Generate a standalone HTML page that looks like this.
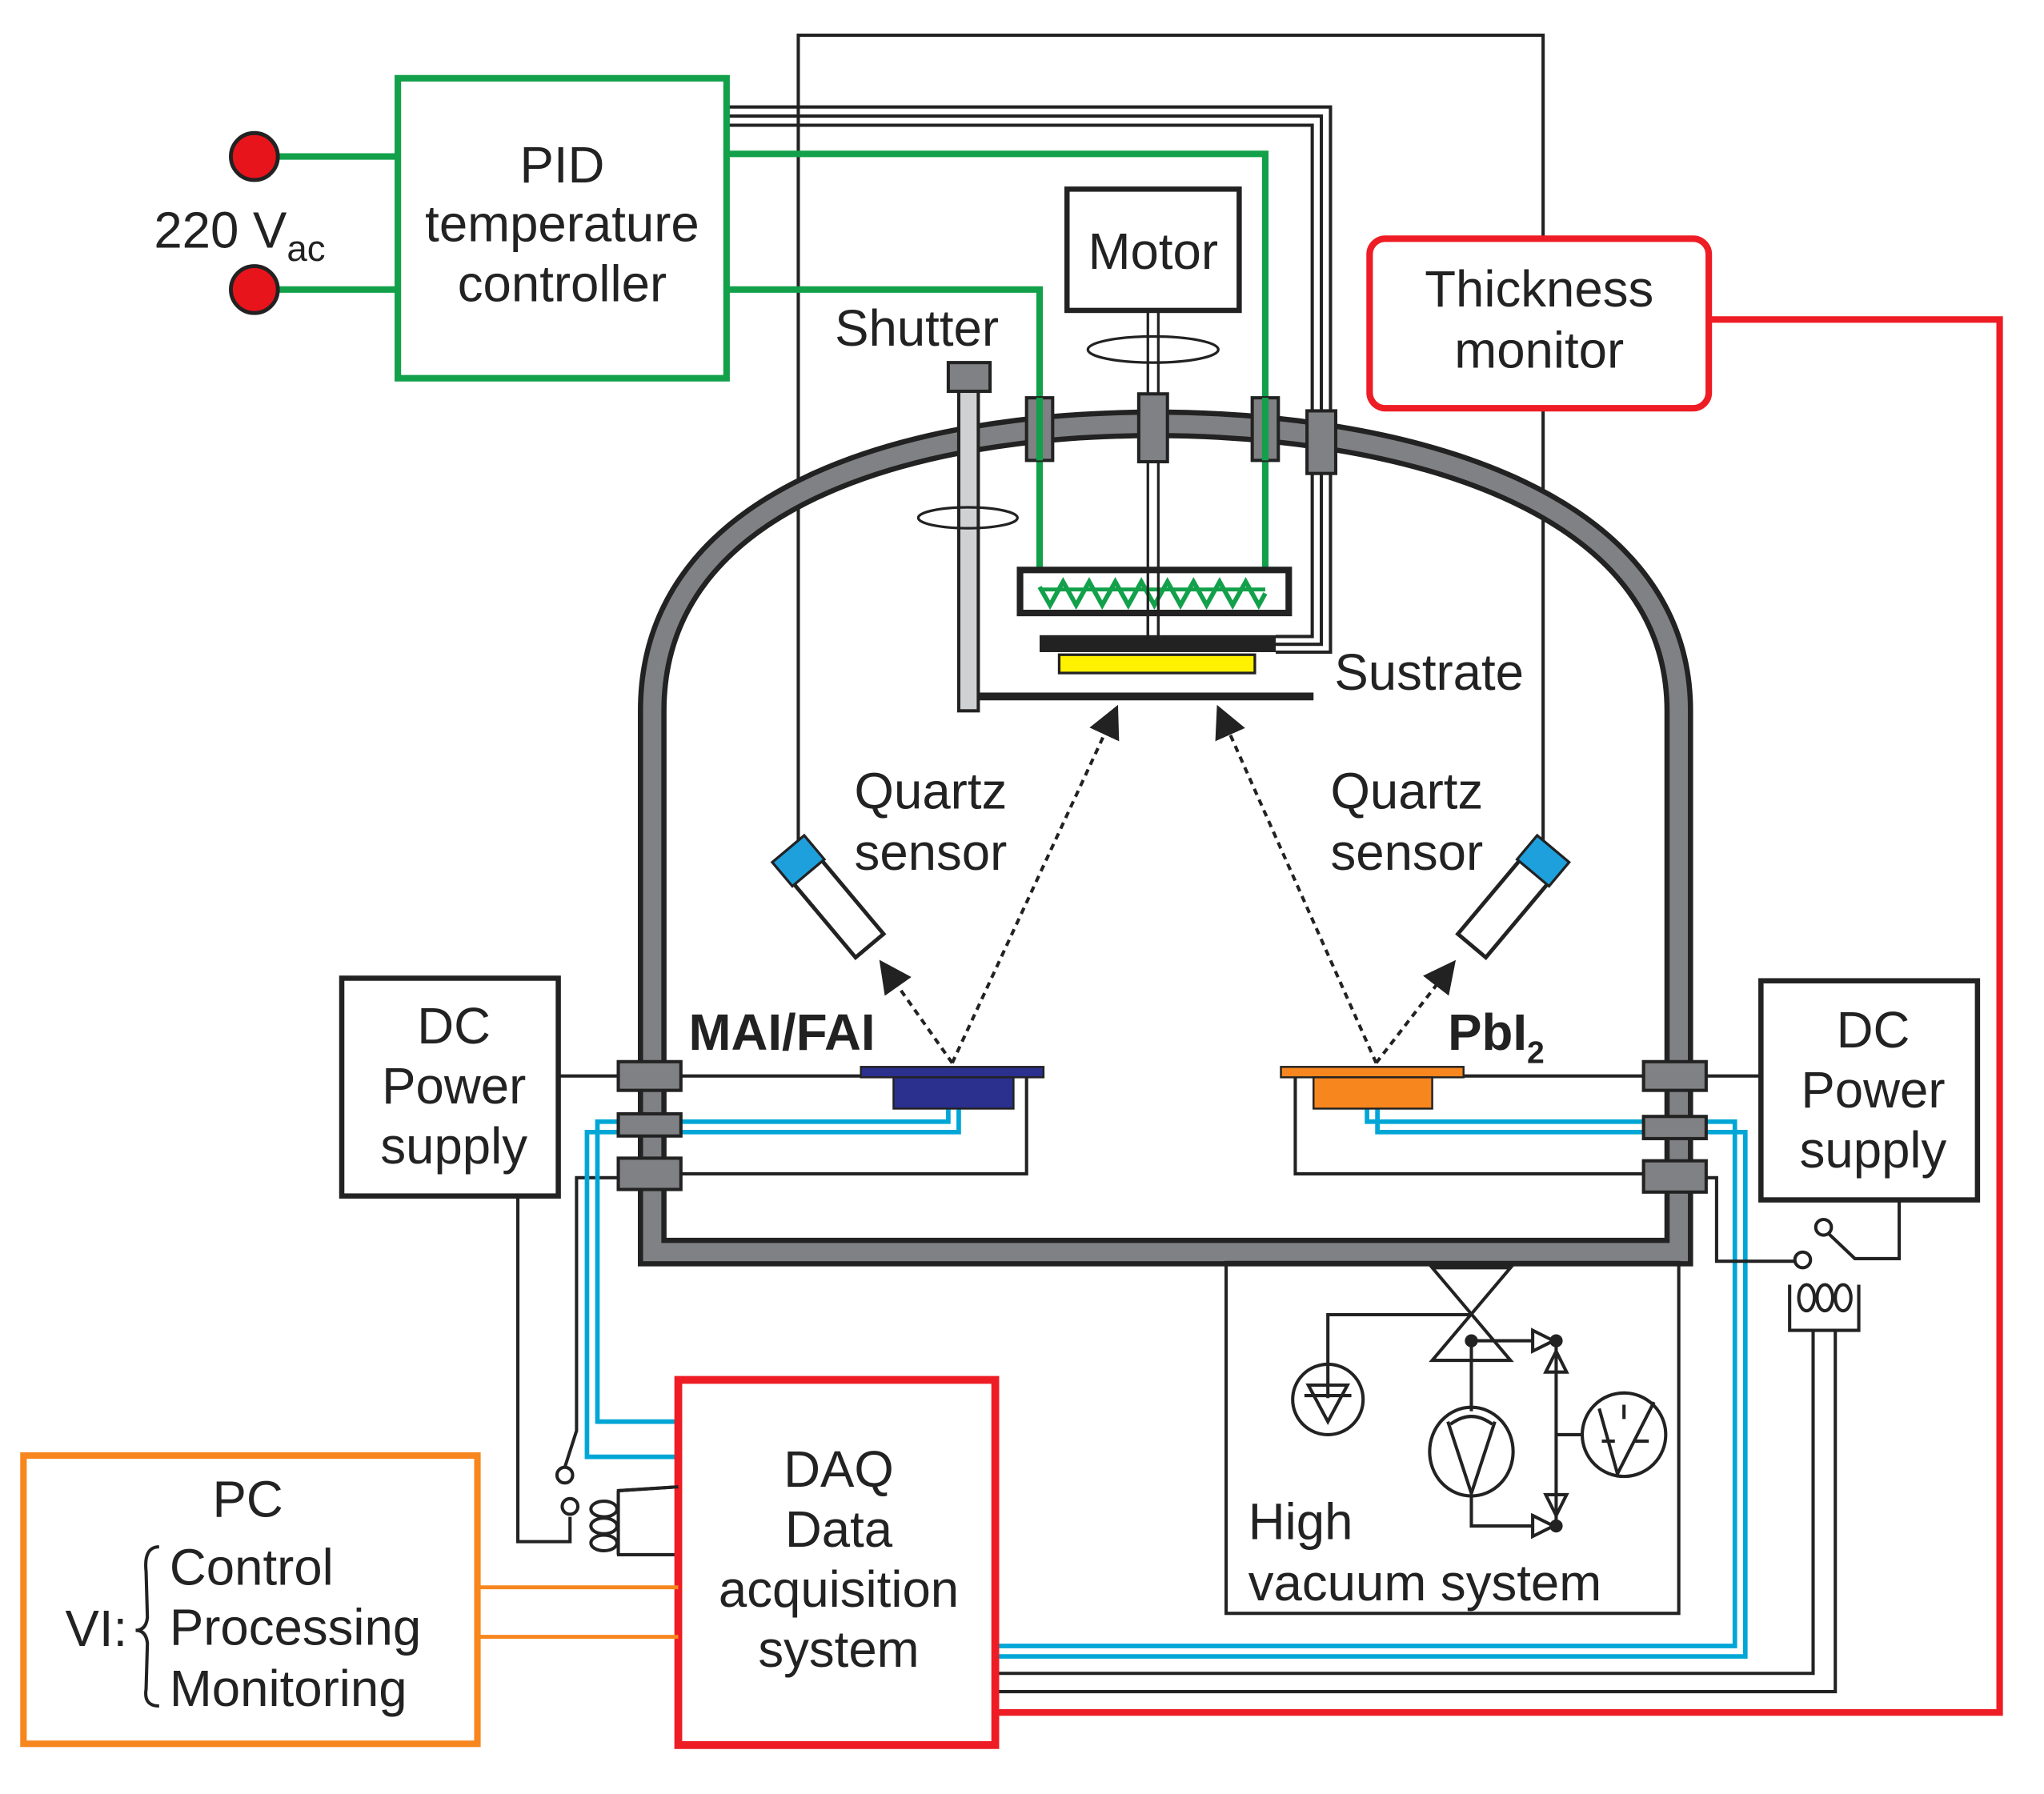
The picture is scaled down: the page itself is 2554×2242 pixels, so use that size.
<!DOCTYPE html>
<html><head><meta charset="utf-8"><style>
html,body{margin:0;padding:0;background:#fff}
svg{display:block}
text{font-family:"Liberation Sans",Arial,sans-serif;fill:#222}
</style></head><body>
<svg width="2554" height="2242" viewBox="0 0 1567 1375.5" preserveAspectRatio="none" xmlns="http://www.w3.org/2000/svg">
<rect width="1567" height="1376" fill="#fff"/>
<polyline points="612,650 612,27 1183,27 1183,650" fill="none" stroke="#222" stroke-width="2.5"/>
<polyline points="557,82 1020,82 1020,500 978,500" fill="none" stroke="#222" stroke-width="2.5"/>
<polyline points="557,89 1013,89 1013,494 978,494" fill="none" stroke="#222" stroke-width="2.5"/>
<polyline points="557,96 1006,96 1006,488 978,488" fill="none" stroke="#222" stroke-width="2.5"/>
<line x1="210" y1="120" x2="305" y2="120" stroke="#12a04a" stroke-width="5"/>
<line x1="210" y1="222" x2="305" y2="222" stroke="#12a04a" stroke-width="5"/>
<polyline points="557,118 970,118 970,455" fill="none" stroke="#12a04a" stroke-width="5"/>
<polyline points="557,222 797,222 797,450" fill="none" stroke="#12a04a" stroke-width="5"/>
<circle cx="195" cy="120" r="18" fill="#e8141c" stroke="#222" stroke-width="3"/>
<circle cx="195" cy="222" r="18" fill="#e8141c" stroke="#222" stroke-width="3"/>
<text x="118" y="190" font-size="39">220 V<tspan font-size="28" dy="10">ac</tspan></text>
<rect x="305" y="60" width="252" height="230" fill="#fff" stroke="#12a04a" stroke-width="5"/>
<text x="431" y="140" font-size="39" text-anchor="middle">PID</text>
<text x="431" y="185" font-size="39" text-anchor="middle">temperature</text>
<text x="431" y="231" font-size="39" text-anchor="middle">controller</text>
<rect x="818" y="145" width="132" height="93" fill="#fff" stroke="#222" stroke-width="4"/>
<text x="884" y="206" font-size="39" text-anchor="middle">Motor</text>
<line x1="880" y1="238" x2="880" y2="490" stroke="#222" stroke-width="2"/>
<line x1="888" y1="238" x2="888" y2="490" stroke="#222" stroke-width="2"/>
<ellipse cx="884" cy="268" rx="50" ry="10" fill="none" stroke="#222" stroke-width="2"/>
<path d="M500,960 L500,545 C500,380 700,325 885,325 C1070,325 1287,380 1287,545 L1287,960 Z" fill="none" stroke="#222" stroke-width="22"/>
<path d="M500,960 L500,545 C500,380 700,325 885,325 C1070,325 1287,380 1287,545 L1287,960 Z" fill="none" stroke="#808184" stroke-width="14"/>
<rect x="787" y="305" width="20" height="48" fill="#808184" stroke="#222" stroke-width="2.5"/>
<rect x="873" y="302" width="22" height="52" fill="#808184" stroke="#222" stroke-width="2.5"/>
<rect x="960" y="305" width="20" height="48" fill="#808184" stroke="#222" stroke-width="2.5"/>
<rect x="1002" y="315" width="22" height="48" fill="#808184" stroke="#222" stroke-width="2.5"/>
<line x1="797" y1="305" x2="797" y2="353" stroke="#12a04a" stroke-width="5"/>
<line x1="970" y1="305" x2="970" y2="353" stroke="#12a04a" stroke-width="5"/>
<text x="640" y="265" font-size="39">Shutter</text>
<rect x="735" y="300" width="15" height="245" fill="#d0d1d3" stroke="#222" stroke-width="2.5"/>
<rect x="727" y="278" width="32" height="22" fill="#808184" stroke="#222" stroke-width="2.5"/>
<ellipse cx="742" cy="397" rx="38" ry="8" fill="none" stroke="#222" stroke-width="2"/>
<line x1="750" y1="534" x2="1007" y2="534" stroke="#222" stroke-width="6"/>
<rect x="782" y="437" width="206" height="33" fill="#fff" stroke="#222" stroke-width="5"/>
<polyline points="797,450 805,464 815,446 825,464 835,446 845,464 855,446 865,464 875,446 885,464 895,446 905,464 915,446 925,464 935,446 945,464 955,446 965,464 970,455" fill="none" stroke="#12a04a" stroke-width="3.5"/>
<line x1="797" y1="452" x2="970" y2="452" stroke="#12a04a" stroke-width="3"/>
<line x1="880" y1="437" x2="880" y2="490" stroke="#222" stroke-width="2"/>
<line x1="888" y1="437" x2="888" y2="490" stroke="#222" stroke-width="2"/>
<rect x="797" y="487" width="181" height="13" fill="#222"/>
<rect x="812" y="502" width="150" height="14" fill="#fff200" stroke="#222" stroke-width="2"/>
<text x="1023" y="529" font-size="39">Sustrate</text>
<text x="655" y="620" font-size="39">Quartz</text>
<text x="655" y="667" font-size="39">sensor</text>
<text x="1020" y="620" font-size="39">Quartz</text>
<text x="1020" y="667" font-size="39">sensor</text>
<g transform="translate(612,660) rotate(-40)">
<rect x="-14" y="0" width="28" height="85" fill="#fff" stroke="#222" stroke-width="3"/>
<rect x="-16" y="-12" width="32" height="24" fill="#1ea0dc" stroke="#222" stroke-width="2"/>
</g>
<g transform="translate(1183,660) rotate(40)">
<rect x="-14" y="0" width="28" height="85" fill="#fff" stroke="#222" stroke-width="3"/>
<rect x="-16" y="-12" width="32" height="24" fill="#1ea0dc" stroke="#222" stroke-width="2"/>
</g>
<defs><marker id="ah" markerWidth="10" markerHeight="10" refX="8" refY="5" orient="auto"><path d="M0,0 L10,5 L0,10 Z" fill="#222"/></marker></defs>
<g stroke="#222" stroke-width="2.5" stroke-dasharray="5,4" fill="none" marker-end="url(#ah)">
<line x1="730" y1="815" x2="855" y2="545"/>
<line x1="1055" y1="815" x2="935" y2="545"/>
<line x1="730" y1="815" x2="677" y2="740"/>
<line x1="1055" y1="815" x2="1113" y2="740"/>
</g>
<text x="528" y="805" font-size="39" font-weight="bold">MAI/FAI</text>
<text x="1110" y="805" font-size="39" font-weight="bold">PbI<tspan font-size="24" dy="10">2</tspan></text>
<line x1="428" y1="825" x2="660" y2="825" stroke="#222" stroke-width="2.5"/>
<polyline points="522,900 787,900 787,826" fill="none" stroke="#222" stroke-width="2.5"/>
<polyline points="474,903 442,903 442,1097 433,1125" fill="none" stroke="#222" stroke-width="2.5"/>
<polyline points="727,850 727,860 458,860 458,1090 520,1090" fill="none" stroke="#00a6d6" stroke-width="3.5"/>
<polyline points="735,850 735,868 450,868 450,1117 520,1117" fill="none" stroke="#00a6d6" stroke-width="3.5"/>
<rect x="660" y="818" width="140" height="8" fill="#2b2f8e" stroke="#222" stroke-width="1.5"/>
<rect x="685" y="826" width="92" height="24" fill="#2b2f8e" stroke="#222" stroke-width="1.5"/>
<line x1="1122" y1="825" x2="1350" y2="825" stroke="#222" stroke-width="2.5"/>
<polyline points="993,826 993,900 1260,900" fill="none" stroke="#222" stroke-width="2.5"/>
<polyline points="1048,850 1048,860 1330,860 1330,1262 763,1262" fill="none" stroke="#00a6d6" stroke-width="3.5"/>
<polyline points="1056,850 1056,868 1338,868 1338,1270 763,1270" fill="none" stroke="#00a6d6" stroke-width="3.5"/>
<rect x="982" y="818" width="140" height="8" fill="#f7861e" stroke="#222" stroke-width="1.5"/>
<rect x="1007" y="826" width="91" height="24" fill="#f7861e" stroke="#222" stroke-width="1.5"/>
<g fill="#808184" stroke="#222" stroke-width="2.5">
<rect x="474" y="814" width="48" height="22"/>
<rect x="474" y="854" width="48" height="17"/>
<rect x="474" y="888" width="48" height="24"/>
<rect x="1260" y="814" width="48" height="22"/>
<rect x="1260" y="856" width="48" height="17"/>
<rect x="1260" y="890" width="48" height="24"/>
</g>
<rect x="262" y="750" width="166" height="167" fill="#fff" stroke="#222" stroke-width="4"/>
<text x="348" y="800" font-size="39" text-anchor="middle">DC</text>
<text x="348" y="846" font-size="39" text-anchor="middle">Power</text>
<text x="348" y="892" font-size="39" text-anchor="middle">supply</text>
<rect x="1350" y="752" width="166" height="168" fill="#fff" stroke="#222" stroke-width="4"/>
<text x="1436" y="803" font-size="39" text-anchor="middle">DC</text>
<text x="1436" y="849" font-size="39" text-anchor="middle">Power</text>
<text x="1436" y="895" font-size="39" text-anchor="middle">supply</text>
<polyline points="397,917 397,1182 437,1182 437,1163" fill="none" stroke="#222" stroke-width="2.5"/>
<circle cx="433" cy="1131" r="6" fill="#fff" stroke="#222" stroke-width="2.5"/>
<circle cx="437" cy="1155" r="6" fill="#fff" stroke="#222" stroke-width="2.5"/>
<g fill="none" stroke="#222" stroke-width="2.5">
<ellipse cx="463" cy="1157" rx="10" ry="6"/><ellipse cx="463" cy="1170" rx="10" ry="6"/><ellipse cx="463" cy="1183" rx="10" ry="6"/>
<polyline points="473,1143 520,1140"/><polyline points="473,1192 520,1192 "/><line x1="474" y1="1143" x2="474" y2="1192"/>
</g>
<polyline points="1308,903 1316,903 1316,967 1376,967" fill="none" stroke="#222" stroke-width="2.5"/>
<circle cx="1382" cy="966" r="6" fill="#fff" stroke="#222" stroke-width="2.5"/>
<circle cx="1398" cy="941" r="6" fill="#fff" stroke="#222" stroke-width="2.5"/>
<polyline points="1402,946 1422,965 1456,965 1456,920" fill="none" stroke="#222" stroke-width="2.5"/>
<g fill="none" stroke="#222" stroke-width="2.5">
<ellipse cx="1385" cy="995" rx="6" ry="10"/><ellipse cx="1399" cy="995" rx="6" ry="10"/><ellipse cx="1413" cy="995" rx="6" ry="10"/>
<polyline points="1372,985 1372,1020 1425,1020 1425,985"/>
<polyline points="1390,1020 1390,1283 763,1283"/>
<polyline points="1407,1020 1407,1297 763,1297"/>
</g>
<rect x="940" y="968" width="347" height="269" fill="none" stroke="#222" stroke-width="2.5"/>
<g fill="none" stroke="#222" stroke-width="2.5">
<path d="M1098,972 L1158,972 L1098,1043 L1158,1043 Z"/>
<polyline points="1018,1072 1018,1008 1128,1008"/>
<circle cx="1018" cy="1073" r="27"/>
<path d="M1003,1062 L1033,1062 L1018,1090 Z M1000,1070 L1036,1070"/>
<line x1="1128" y1="1028" x2="1128" y2="1082"/>
<ellipse cx="1128" cy="1113" rx="32" ry="34"/>
<path d="M1110,1090 L1128,1145 L1146,1090 M1112,1092 Q1128,1080 1144,1092"/>
<polyline points="1128,1028 1175,1028"/>
<polyline points="1128,1147 1128,1170 1175,1170"/>
<line x1="1193" y1="1028" x2="1193" y2="1170"/>
<path d="M1175,1020 L1191,1028 L1175,1036 Z M1175,1162 L1191,1170 L1175,1178 Z M1185,1052 L1201,1052 L1193,1036 Z M1185,1146 L1201,1146 L1193,1162 Z"/>
<line x1="1193" y1="1100" x2="1212" y2="1100"/>
<circle cx="1245" cy="1100" r="32"/>
<path d="M1226,1080 L1240,1130 L1268,1075 M1245,1077 L1245,1088 M1228,1105 L1238,1105 M1252,1105 L1264,1105"/>
</g>
<circle cx="1128" cy="1028" r="5" fill="#222"/><circle cx="1193" cy="1028" r="5" fill="#222"/><circle cx="1193" cy="1170" r="5" fill="#222"/>
<text x="957" y="1180" font-size="39">High</text>
<text x="957" y="1227" font-size="39">vacuum system</text>
<polyline points="1310,245 1533,245 1533,1313 763,1313" fill="none" stroke="#ee1c24" stroke-width="5"/>
<rect x="1050" y="183" width="260" height="130" rx="12" fill="#fff" stroke="#ee1c24" stroke-width="5"/>
<text x="1180" y="235" font-size="39" text-anchor="middle">Thickness</text>
<text x="1180" y="282" font-size="39" text-anchor="middle">monitor</text>
<rect x="520" y="1058" width="243" height="280" fill="#fff" stroke="#ee1c24" stroke-width="6"/>
<text x="643" y="1140" font-size="39" text-anchor="middle">DAQ</text>
<text x="643" y="1186" font-size="39" text-anchor="middle">Data</text>
<text x="643" y="1232" font-size="39" text-anchor="middle">acquisition</text>
<text x="643" y="1278" font-size="39" text-anchor="middle">system</text>
<line x1="473" y1="1143" x2="520" y2="1140" stroke="#222" stroke-width="2.5"/>
<line x1="366" y1="1217" x2="520" y2="1217" stroke="#f7861e" stroke-width="3"/>
<line x1="366" y1="1255" x2="520" y2="1255" stroke="#f7861e" stroke-width="3"/>
<rect x="18" y="1116" width="348" height="221" fill="#fff" stroke="#f7861e" stroke-width="5"/>
<text x="190" y="1163" font-size="39" text-anchor="middle">PC</text>
<text x="50" y="1262" font-size="39">VI:</text>
<path d="M122,1186 Q110,1186 112,1205 L113,1240 Q112,1250 104,1250 Q112,1250 113,1260 L112,1295 Q110,1308 122,1308" fill="none" stroke="#222" stroke-width="2.5"/>
<text x="130" y="1215" font-size="39">Control</text>
<text x="130" y="1261" font-size="39">Processing</text>
<text x="130" y="1308" font-size="39">Monitoring</text>
</svg>
</body></html>
